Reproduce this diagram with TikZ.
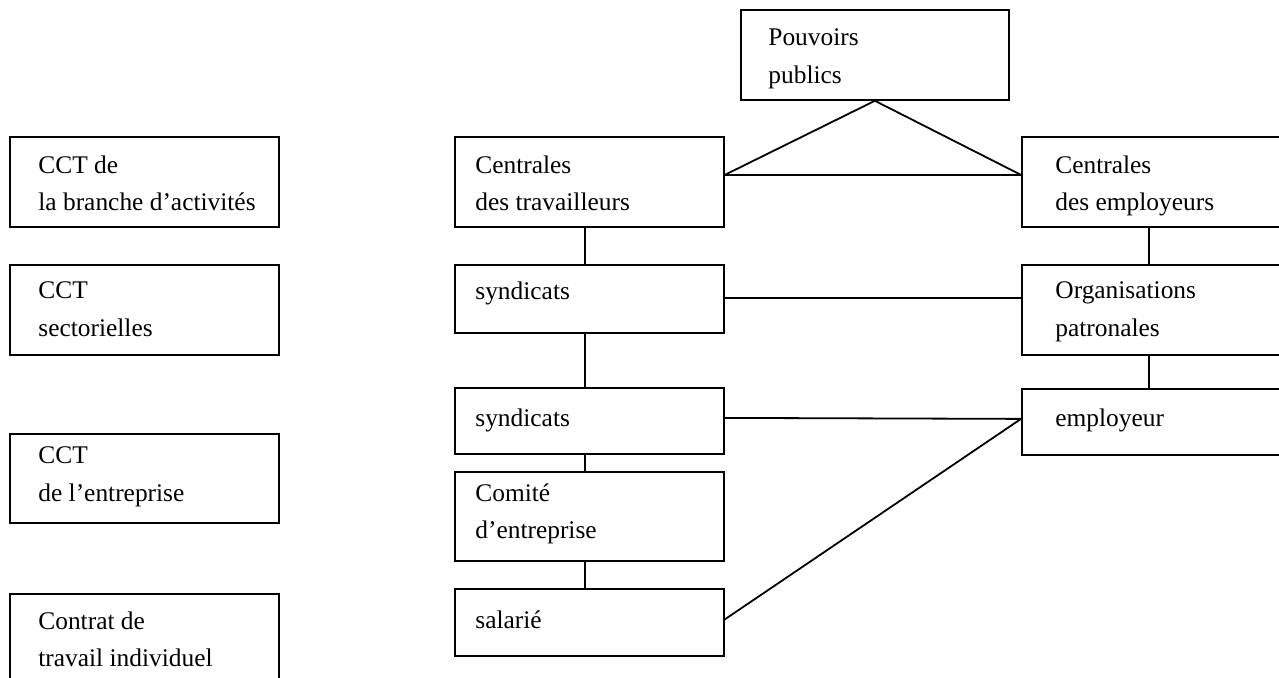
\documentclass[tikz,border=0pt]{standalone}
\usepackage{fontspec}
\setmainfont{Liberation Serif}

\tikzset{
  box/.style={draw, anchor=north west, inner sep=0, line width=0.9pt},
  txt/.style={anchor=north west, align=left, inner sep=0, font=\fontsize{12.7}{18.9}\selectfont},
  lien/.style={line width=0.9pt}
}

\begin{document}
\begin{tikzpicture}[x=0.5pt,y=-0.5pt]
\useasboundingbox (0,0) rectangle (1279,678);
\clip (0,0) rectangle (1279,678);
% boites
\node (pp) at (740,9) [box, minimum width=134pt, minimum height=45pt] {};
\node (cct1) at (9,136) [box, minimum width=134.5pt, minimum height=45pt] {};
\node (cct2) at (9,264) [box, minimum width=134.5pt, minimum height=45pt] {};
\node (cct3) at (9,433) [box, minimum width=134.5pt, minimum height=44.5pt] {};
\node (cct4) at (9,593) [box, minimum width=134.5pt, minimum height=60pt] {};
\node (ctrav) at (454,136) [box, minimum width=134.5pt, minimum height=45pt] {};
\node (synd1) at (454,264) [box, minimum width=134.5pt, minimum height=34pt] {};
\node (synd2) at (454,387) [box, minimum width=134.5pt, minimum height=33pt] {};
\node (comite) at (454,471) [box, minimum width=134.5pt, minimum height=44.5pt] {};
\node (salarie) at (454,588) [box, minimum width=134.5pt, minimum height=33.5pt] {};
\node (cemp) at (1021,136) [box, minimum width=150pt, minimum height=45pt] {};
\node (orgp) at (1021,264) [box, minimum width=150pt, minimum height=45pt] {};
\node (empl) at (1021,388) [box, minimum width=150pt, minimum height=33pt] {};
% textes
\node (tpp) at (768,28) [txt] {Pouvoirs\\publics};
\node (tcct1) at (38,155) [txt] {CCT de\\la branche d'activités};
\node (tcct2) at (38,281) [txt] {CCT\\sectorielles};
\node (tcct3) at (38,446) [txt] {CCT\\de l'entreprise};
\node (tcct4) at (38,611) [txt] {Contrat de\\travail individuel};
\node (tctrav) at (475,155) [txt] {Centrales\\des travailleurs};
\node (tsynd1) at (475,281) [txt] {syndicats};
\node (tsynd2) at (475,408) [txt] {syndicats};
\node (tcomite) at (475,483) [txt] {Comité\\d'entreprise};
\node (tsalarie) at (475,610) [txt] {salarié};
\node (tcemp) at (1055,155) [txt] {Centrales\\des employeurs};
\node (torgp) at (1055,281) [txt] {Organisations\\patronales};
\node (templ) at (1055,408) [txt] {employeur};
% liens
\draw [lien] (pp.south) -- ([yshift=3.5pt]ctrav.east);
\draw [lien] (pp.south) -- ([yshift=3.5pt]cemp.west);
\draw [lien] ([yshift=3.5pt]ctrav.east) -- ([yshift=3.5pt]cemp.west);
\draw [lien] ([xshift=-2.25pt]ctrav.south) -- ([xshift=-2.25pt]synd1.north);
\draw [lien] ([xshift=-2.25pt]synd1.south) -- ([xshift=-2.25pt]synd2.north);
\draw [lien] ([xshift=-2.25pt]synd2.south) -- ([xshift=-2.25pt]comite.north);
\draw [lien] ([xshift=-2.25pt]comite.south) -- ([xshift=-2.25pt]salarie.north);
\draw [lien] ([yshift=0.5pt]synd1.east) -- ([yshift=6pt]orgp.west);
\draw [lien] ([yshift=1.5pt]synd2.east) -- ([yshift=1.5pt]empl.west);
\draw [lien] ([yshift=1.5pt]salarie.east) -- ([yshift=1.5pt]empl.west);
\draw [lien] ([xshift=-11.5pt]cemp.south) -- ([xshift=-11.5pt]orgp.north);
\draw [lien] ([xshift=-11.5pt]orgp.south) -- ([xshift=-11.5pt]empl.north);
\end{tikzpicture}
\end{document}
